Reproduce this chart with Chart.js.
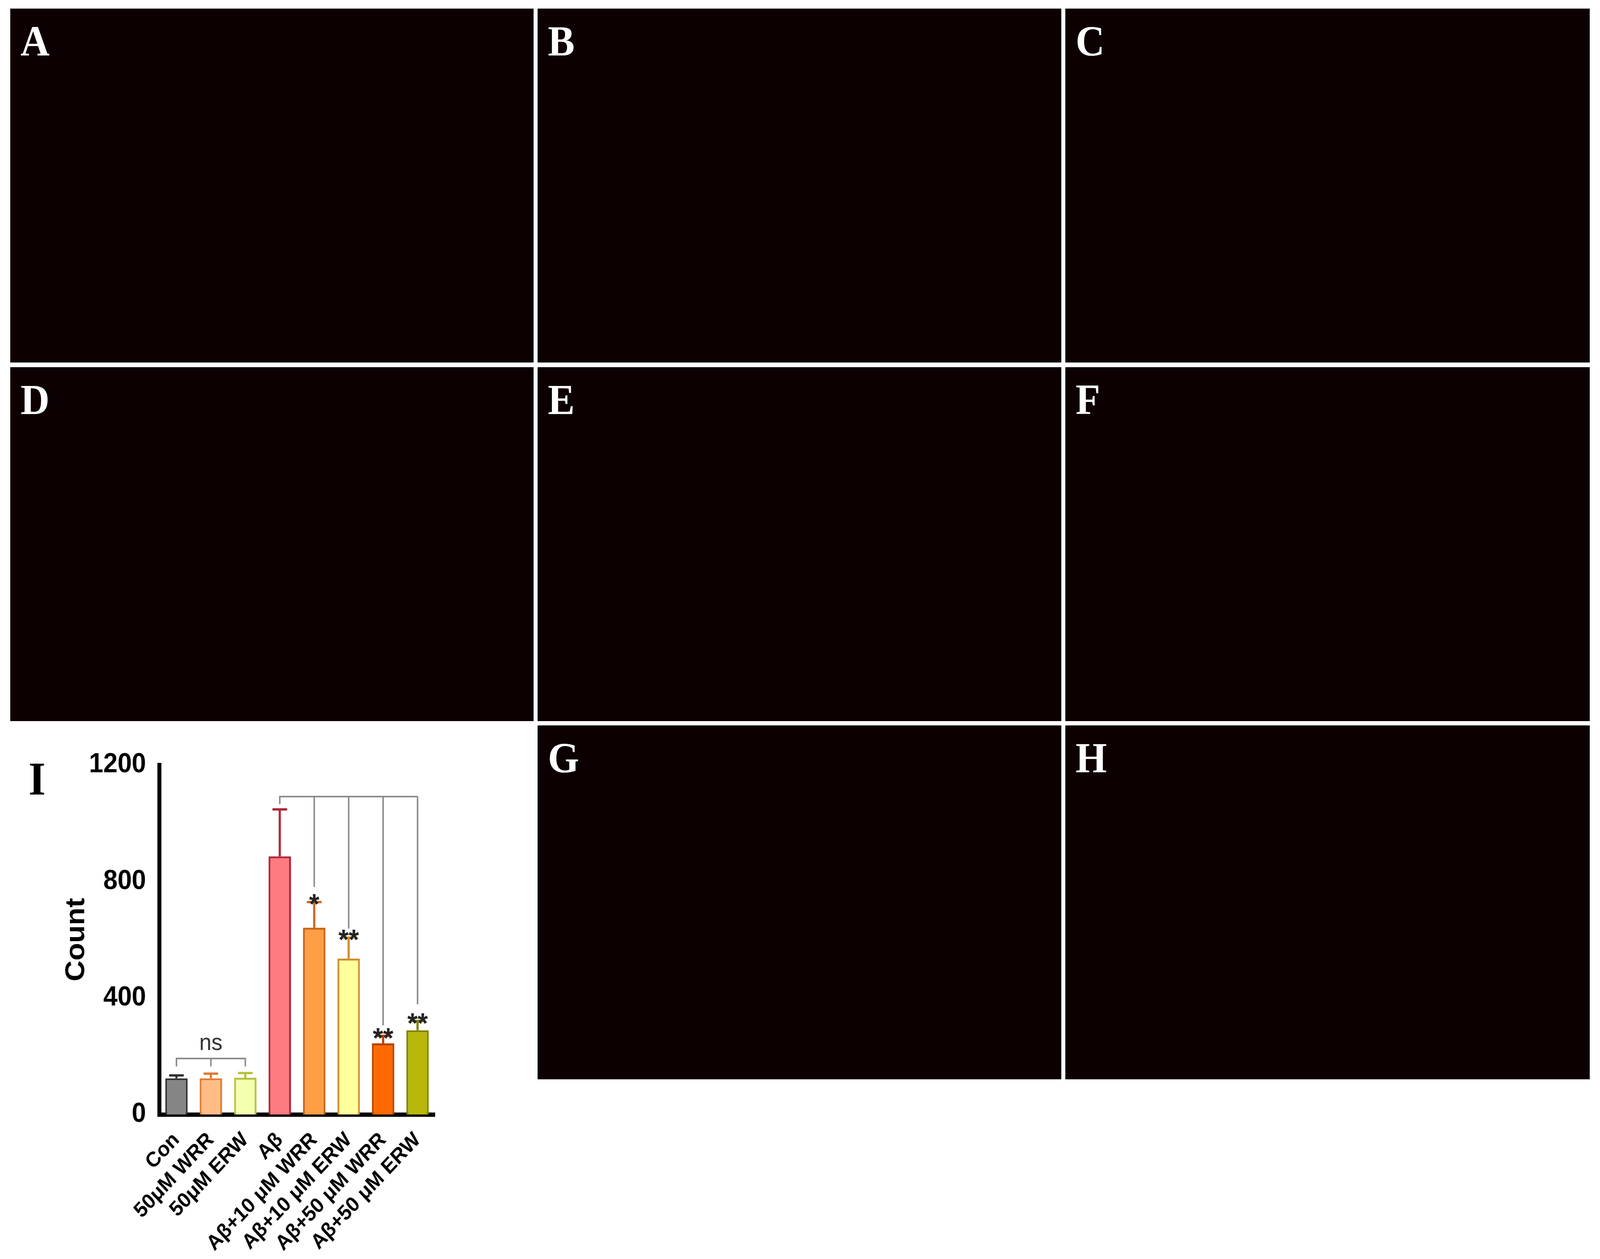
<!DOCTYPE html>
<html><head><meta charset="utf-8">
<script src="https://cdn.jsdelivr.net/npm/chart.js@4"></script>
<style>
html,body{margin:0;background:#fff;overflow:hidden}
#page{width:4372px;height:3223px;position:absolute;left:0;top:0;transform-origin:0 0}
.p{position:absolute;background:#0c0000}
.p span{position:absolute;left:28px;top:20px;font:bold 110px "Liberation Serif";color:#fff}
#wrap{position:absolute;left:0;top:1850px;width:1450px;height:1370px}
#lblI{position:absolute;left:78px;top:1925px;font:bold 120px "Liberation Serif";color:#000}
</style></head><body>
<div id="page">
<div id="panels"></div>
<div id="lblI">I</div>
<div id="wrap"><canvas id="c" width="1450" height="1370"></canvas></div>
</div>
<script>
const pg=document.getElementById('page');
pg.style.transform='scale('+(window.innerWidth/4372)+','+(window.innerHeight/3223)+')';
const panelLabels=['A','B','C','D','E','F','G','H'];
const cols=[[28,1458],[1469,2900],[2911,4344]], rows=[[22,928],[940,1846],[1857,2763]];
const pos=[[0,0],[1,0],[2,0],[0,1],[1,1],[2,1],[1,2],[2,2]];
panelLabels.forEach((l,i)=>{const [c,r]=pos[i];const d=document.createElement('div');d.className='p';
d.style.left=cols[c][0]+'px';d.style.top=rows[r][0]+'px';d.style.width=(cols[c][1]-cols[c][0])+'px';d.style.height=(rows[r][1]-rows[r][0])+'px';
d.innerHTML='<span>'+l+'</span>';document.getElementById('panels').appendChild(d);});

const categories=['Con','50μM WRR','50μM ERW','Aβ','Aβ+10 μM WRR','Aβ+10 μM ERW','Aβ+50 μM WRR','Aβ+50 μM ERW'];
const counts=[124,124,126,886,641,535,244,289];
const errors=[10,16,16,161,88,72,26,32];
const marks=['','','','','*','**','**','**'];
const yTicks=[0,400,800,1200];
const fills=['#858585','#FFBD85','#F4FFB0','#FF7B82','#FF9F45','#FFFF9C','#FF6A00','#B8B80A'];
const borders=['#333333','#E07A30','#B8C240','#B02838','#C86820','#D09030','#B84000','#808000'];
const bracketTops=[781,638,306,378];

const extras={id:'extras',afterDatasetsDraw(ch){
 const ctx=ch.ctx,x=ch.scales.x,y=ch.scales.y;
 ctx.save();
 counts.forEach((v,i)=>{const px=x.getPixelForValue(i),t=y.getPixelForValue(v+errors[i]);
  ctx.strokeStyle=borders[i];ctx.lineWidth=6;ctx.beginPath();ctx.moveTo(px,y.getPixelForValue(v));ctx.lineTo(px,t);
  ctx.moveTo(px-20,t);ctx.lineTo(px+20,t);ctx.stroke();
  if(marks[i]){ctx.fillStyle='#222';ctx.font='bold 72px "Liberation Sans"';ctx.textAlign='center';ctx.textBaseline='alphabetic';ctx.fillText(marks[i],px,t+30);}
 });
 ctx.strokeStyle='#888';ctx.lineWidth=4;
 const yb=y.getPixelForValue(192),yd=y.getPixelForValue(165);
 ctx.beginPath();ctx.moveTo(x.getPixelForValue(0),yd);ctx.lineTo(x.getPixelForValue(0),yb);ctx.lineTo(x.getPixelForValue(2),yb);ctx.lineTo(x.getPixelForValue(2),yd);
 ctx.moveTo(x.getPixelForValue(1),yb);ctx.lineTo(x.getPixelForValue(1),yd);ctx.stroke();
 ctx.fillStyle='#333';ctx.font='60px "Liberation Sans"';ctx.textAlign='center';ctx.textBaseline='bottom';ctx.fillText('ns',x.getPixelForValue(1),yb-8);
 const yt=y.getPixelForValue(1091);
 ctx.beginPath();ctx.moveTo(x.getPixelForValue(3),y.getPixelForValue(1065));ctx.lineTo(x.getPixelForValue(3),yt);ctx.lineTo(x.getPixelForValue(7),yt);ctx.stroke();
 bracketTops.forEach((b,k)=>{const px=x.getPixelForValue(4+k);ctx.beginPath();ctx.moveTo(px,yt);ctx.lineTo(px,y.getPixelForValue(b));ctx.stroke();});
 ctx.restore();
}};

new Chart(document.getElementById('c'),{type:'bar',
 data:{labels:categories,datasets:[{data:counts,backgroundColor:fills,borderColor:borders,borderWidth:5,barPercentage:0.65,categoryPercentage:1}]},
 options:{responsive:false,animation:false,devicePixelRatio:1,
  layout:{padding:{top:108,right:262,left:0,bottom:0}},
  plugins:{legend:{display:false},tooltip:{enabled:false}},
  scales:{
   x:{offset:true,grid:{display:false,drawTicks:true,tickLength:34,tickWidth:8,tickColor:'#000'},border:{color:'#000',width:11},
      ticks:{color:'#000',font:{family:'Liberation Sans',weight:'bold',size:54},maxRotation:45,minRotation:45,padding:0,autoSkip:false},
      afterFit(s){s.height=367;}},
   y:{min:0,max:1200,afterBuildTicks(s){s.ticks=yTicks.map(v=>({value:v}));},
      grid:{display:false,drawTicks:true,tickLength:32,tickWidth:8,tickColor:'#000'},border:{color:'#000',width:11},
      ticks:{color:'#000',font:{family:'Liberation Sans',weight:'bold',size:70},padding:4,callback:v=>String(v)},
      title:{display:true,text:'Count',color:'#000',font:{family:'Liberation Sans',weight:'bold',size:74},padding:{top:165,bottom:20}},
      afterFit(s){s.width=435;}}
  }},plugins:[extras]});
</script></body></html>
